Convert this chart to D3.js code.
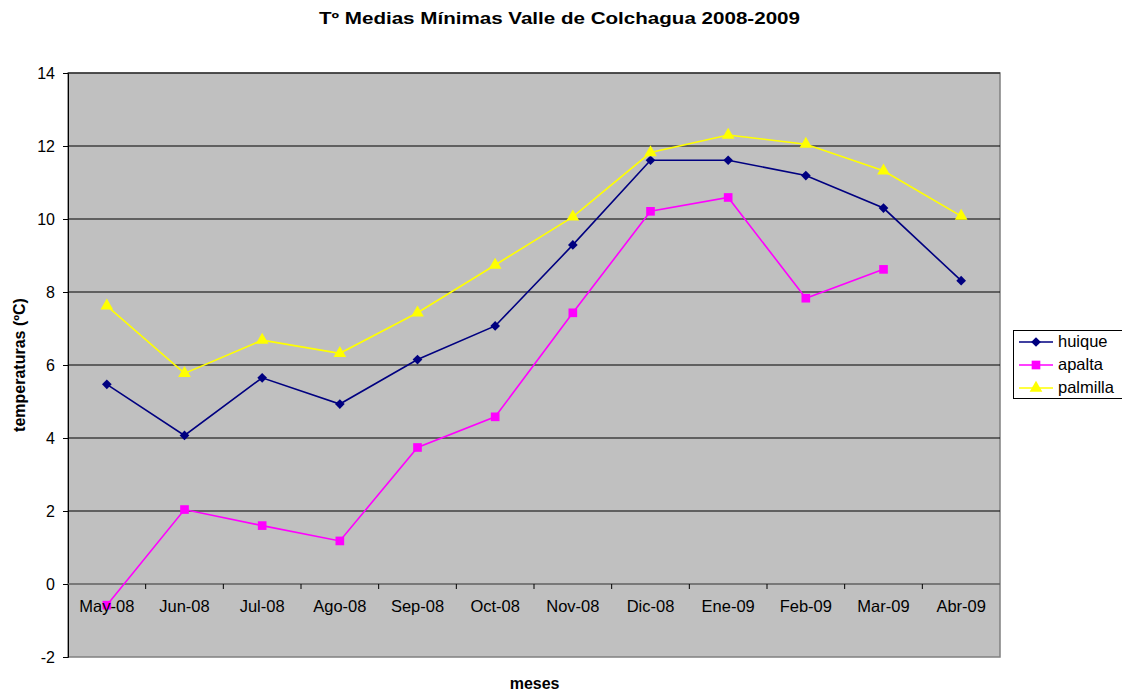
<!DOCTYPE html>
<html><head><meta charset="utf-8">
<script src="https://cdn.jsdelivr.net/npm/d3@7"></script>
<style>body{margin:0;background:#fff;font-family:Arial,"Liberation Sans",sans-serif}</style>
</head><body><svg id="c" width="1122" height="694"></svg>
<script>
const categories = ["May-08","Jun-08","Jul-08","Ago-08","Sep-08","Oct-08","Nov-08","Dic-08","Ene-09","Feb-09","Mar-09","Abr-09"];
const huique   = [5.47,4.07,5.65,4.93,6.15,7.07,9.29,11.61,11.61,11.19,10.30,8.31];
const apalta   = [-0.58,2.04,1.60,1.18,3.74,4.58,7.43,10.21,10.59,7.83,8.62,null];
const palmilla = [7.62,5.77,6.68,6.32,7.43,8.74,10.06,11.82,12.30,12.05,11.32,10.08];
const yTicks = [-2,0,2,4,6,8,10,12,14];
const seriesNames = ["huique","apalta","palmilla"];

const series = [
  {name:"huique", values:huique, color:"#000080", shape:d3.symbolDiamond2, size:60},
  {name:"apalta", values:apalta, color:"#FF00FF", shape:d3.symbolSquare, size:75},
  {name:"palmilla", values:palmilla, color:"#FFFF00", shape:d3.symbolTriangle, size:70}
];

const svg = d3.select("#c");
const L=68, R=1000, T=73, B=657;
const x = d3.scaleBand().domain(categories).range([L,R]);
const y = d3.scaleLinear().domain([-2,14]).range([B,T]);

svg.append("rect").attr("x",L).attr("y",T).attr("width",R-L).attr("height",B-T)
  .attr("fill","#C0C0C0").attr("stroke","#808080").attr("stroke-width",1.5);

// gridlines
svg.append("g").selectAll("line").data(yTicks.filter(d=>d>-2 && d!==0)).join("line")
  .attr("x1",L).attr("x2",R).attr("y1",d=>y(d)).attr("y2",d=>y(d))
  .attr("stroke","#000").attr("stroke-width",1);

// y axis
const yAxis = svg.append("g").attr("transform",`translate(${L},0)`)
  .call(d3.axisLeft(y).tickValues(yTicks).tickSize(5).tickPadding(8).tickFormat(d=>String(d)));
yAxis.select(".domain").attr("stroke","#000");
yAxis.selectAll(".tick line").attr("stroke","#000");
yAxis.selectAll("text").attr("font-size","16px").attr("font-family","Arial, 'Liberation Sans'").attr("fill","#000");

// x axis at y=0
const xAxisG = svg.append("g").attr("transform",`translate(0,${y(0)})`);
xAxisG.append("line").attr("x1",L).attr("x2",R).attr("stroke","#606060").attr("stroke-width",1.5);
xAxisG.selectAll("line.tk").data(categories.slice(1)).join("line").attr("class","tk")
  .attr("x1",d=>x(d)).attr("x2",d=>x(d)).attr("y1",0).attr("y2",5).attr("stroke","#000");

// lines + markers
series.forEach(s=>{
  const pts = s.values.map((v,i)=>({v,c:categories[i]}));
  svg.append("path").datum(pts)
    .attr("d",d3.line().defined(d=>d.v!=null).x(d=>x(d.c)+x.bandwidth()/2).y(d=>y(d.v)))
    .attr("fill","none").attr("stroke",s.color).attr("stroke-width",1.6);
  svg.append("g").selectAll("path").data(pts.filter(d=>d.v!=null)).join("path")
    .attr("transform",d=>`translate(${x(d.c)+x.bandwidth()/2},${y(d.v)})`)
    .attr("d",d3.symbol().type(s.shape).size(s.size)).attr("fill",s.color);
});

// x tick labels
svg.append("g").selectAll("text").data(categories).join("text")
  .attr("x",d=>x(d)+x.bandwidth()/2).attr("y",y(0)+28)
  .attr("text-anchor","middle").attr("font-size","16.5px").attr("fill","#000").text(d=>d);

// titles
svg.append("text").attr("x",559.5).attr("y",24).attr("text-anchor","middle")
  .attr("font-size","16px").attr("font-weight","bold")
  .attr("textLength",481).attr("lengthAdjust","spacingAndGlyphs")
  .text("Tº Medias Mínimas Valle de Colchagua 2008-2009");
svg.append("text").attr("x",534.6).attr("y",689).attr("text-anchor","middle")
  .attr("font-size","16px").attr("font-weight","bold").text("meses");
svg.append("text").attr("transform","translate(25,365) rotate(-90)").attr("text-anchor","middle")
  .attr("font-size","16px").attr("font-weight","bold").text("temperaturas (ºC)");

// legend
const lg = svg.append("g");
lg.append("rect").attr("x",1013.5).attr("y",330.5).attr("width",120).attr("height",68)
  .attr("fill","#fff").attr("stroke","#000");
series.forEach((s,i)=>{
  const yy = 342 + i*23;
  lg.append("line").attr("x1",1019).attr("x2",1053).attr("y1",yy).attr("y2",yy).attr("stroke",s.color).attr("stroke-width",1.6);
  lg.append("path").attr("transform",`translate(1036,${yy})`).attr("d",d3.symbol().type(s.shape).size(s.size)).attr("fill",s.color);
  lg.append("text").attr("x",1058).attr("y",yy+5).attr("font-size","16.5px").text(seriesNames[i]);
});
</script></body></html>
